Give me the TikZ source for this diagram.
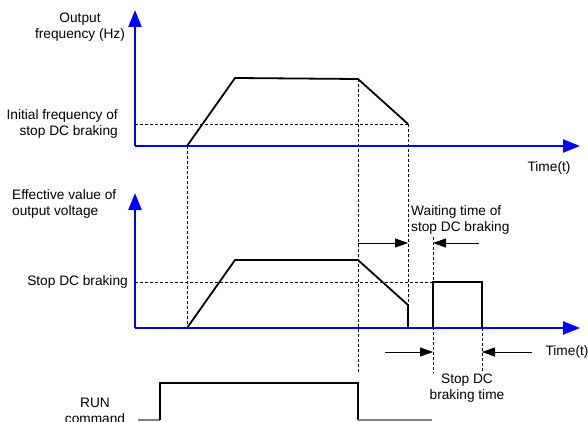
\documentclass[tikz,border=0pt]{standalone}
\usepackage{fontspec}
\setmainfont{Liberation Sans}
\definecolor{AxisBlue}{HTML}{0000FF}
\definecolor{CurveBlack}{HTML}{000000}
\definecolor{RunGray}{HTML}{808080}
\usetikzlibrary{arrows.meta, positioning}
\tikzset{
    % Axes drawn in blue with large solid heads
    axis line/.style={
        draw=AxisBlue,
        line width=2.4pt,
        -{Triangle[length=17pt,width=13pt]}
    },
    % Output curves
    curve line/.style={
        draw=CurveBlack,
        line width=1.8pt,
        line join=miter
    },
    pulse line/.style={
        draw=CurveBlack,
        line width=1.2pt
    },
    run low/.style={
        draw=RunGray,
        line width=1.2pt
    },
    % Dashed guide lines
    guide line/.style={
        draw=CurveBlack,
        dash pattern=on 3pt off 2pt,
        line width=0.8pt
    },
    % Time interval arrows
    interval arrow/.style={
        -{Triangle[length=13pt,width=9pt]},
        draw=CurveBlack,
        line width=0.8pt
    },
    label text/.style={
        inner sep=0pt,
        font=\fontsize{13.7}{15.5}\selectfont
    }
}

\begin{document}
\begin{tikzpicture}[x=1pt, y=-1pt]
        \useasboundingbox (0,0) rectangle (588,422);

        % Key points (pixel grid, y downwards)
        \coordinate (fo) at (135,146);
        \coordinate (fy) at (135,10);
        \coordinate (fx) at (580,146);
        \coordinate (vo) at (135,328);
        \coordinate (vy) at (135,193);
        \coordinate (vx) at (580,328);

        \coordinate (fstart) at (187,146);
        \coordinate (ftop) at (235,78);
        \coordinate (fdown) at (358,79);
        \coordinate (fend) at (408,124);

        \coordinate (vstart) at (187,328);
        \coordinate (vtop) at (235,260);
        \coordinate (vdown) at (358,260);
        \coordinate (vend) at (408,305);
        \coordinate (vzero) at (408,328);

        \coordinate (p1) at (433,328);
        \coordinate (p2) at (433,282);
        \coordinate (p3) at (482,282);
        \coordinate (p4) at (482,328);

        % Dashed guides
        \draw[guide line] (fo |- fend) -- (fend);
        \draw[guide line] (vo |- p2) -- (p2);
        \draw[guide line] (fstart) -- (vstart);
        \draw[guide line] (fdown) -- (358,373);
        \draw[guide line] (fend) -- (vend);
        \draw[guide line] (433,237) -- (433,373);
        \draw[guide line] (p4) -- (482,373);

        % Axes
        \draw[axis line] (fo) -- (fy);
        \draw[axis line] (fo) -- (fx);
        \draw[axis line] (vo) -- (vy);
        \draw[axis line] (vo) -- (vx);

        % Output frequency
        \draw[curve line] (fstart) -- (ftop) -- (fdown) -- (fend);

        % Output voltage and DC braking pulse
        \draw[curve line] (vstart) -- (vtop) -- (vdown) -- (vend);
        \draw[pulse line] (vend) -- (vzero);
        \draw[pulse line] (p1) -- (p2) -- (p3) -- (p4);

        % RUN command
        \coordinate (r0) at (138,420);
        \coordinate (r1) at (160,420);
        \coordinate (r2) at (160,383);
        \coordinate (r3) at (358,383);
        \coordinate (r4) at (358,420);
        \coordinate (r5) at (432,420);
        \draw[run low] (r0) -- (r1);
        \draw[pulse line] (r1) -- (r2) -- (r3) -- (r4);
        \draw[run low] (r4) -- (r5);

        % Interval arrows
        \coordinate (wa) at (358,243);
        \coordinate (wb) at (408,243);
        \coordinate (wc) at (433,243);
        \coordinate (wd) at (479,243);
        \draw[interval arrow] (wa) -- (wb);
        \draw[interval arrow] (wd) -- (wc);
        \coordinate (ba) at (385,352);
        \coordinate (bb) at (433,352);
        \coordinate (bc) at (482,352);
        \coordinate (bd) at (532,352);
        \draw[interval arrow] (ba) -- (bb);
        \draw[interval arrow] (bd) -- (bc);

        % Labels
        \node[label text, align=center] (freqlabel) at (80,27) {Output\\frequency (Hz)};
        \node[label text, align=right, anchor=east] (initlabel) at (118,124) {Initial frequency of\\stop DC braking};
        \node[label text] (timetop) at (549,168) {Time(t)};
        \node[label text, align=left, anchor=west] (voltlabel) at (12,204) {Effective value of\\output voltage};
        \node[label text, anchor=east] (brakelabel) at (128,282) {Stop DC braking};
        \node[label text, align=left, anchor=west] (waitlabel) at (411,220) {Waiting time of\\stop DC braking};
        \node[label text] (timelow) at (567,352) {Time(t)};
        \node[label text, align=center] (brakelen) at (467,388) {Stop DC\\braking time};
        \node[label text, align=center] (runlabel) at (95,411) {RUN\\command};
    \end{tikzpicture}
\end{document}
